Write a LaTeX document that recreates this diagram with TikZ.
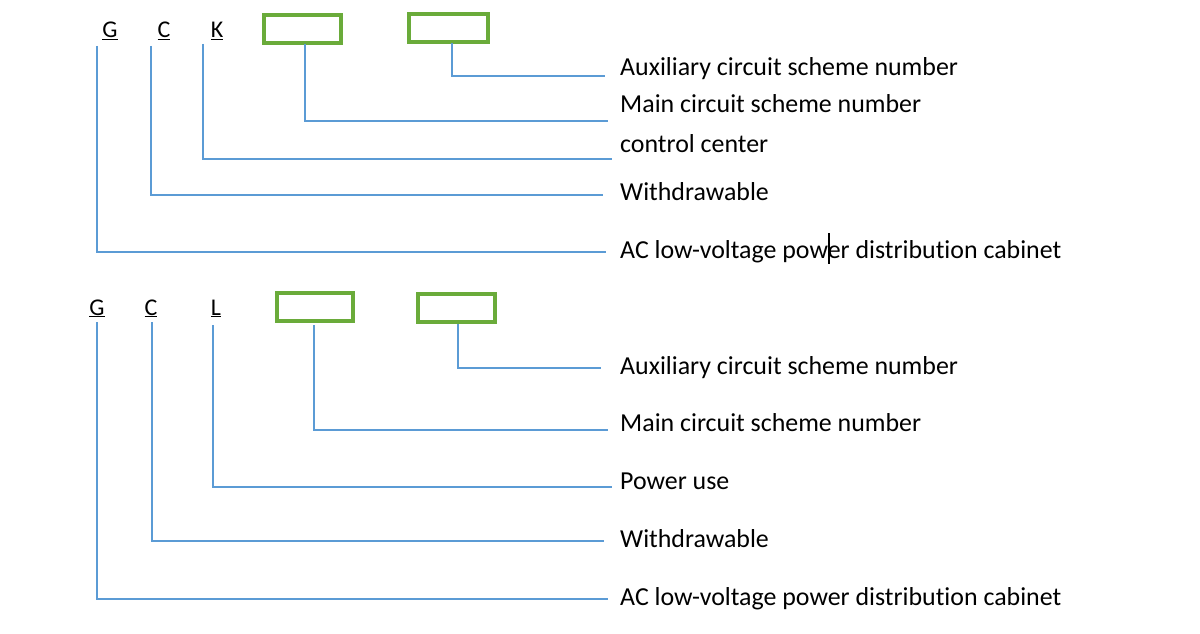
\documentclass[tikz,border=0pt]{standalone}
\usepackage{fontspec}
\setmainfont{Carlito}[Ligatures={NoCommon}]
\definecolor{lineblue}{HTML}{5B9BD5}
\definecolor{boxgreen}{HTML}{6AAB3A}
\begin{document}
\begin{tikzpicture}[x=1pt,y=-1pt,
  conn/.style={draw=lineblue,line width=1.3pt},
  codebox/.style={draw=boxgreen,line width=3.2pt},
  letter/.style={anchor=base,inner sep=0pt,font=\fontsize{24}{28}\selectfont},
  label/.style={anchor=base west,inner sep=0pt,font=\fontsize{25.9}{30}\selectfont}]
\useasboundingbox[fill=white] (0,0) rectangle (1200,634);
% ---------- top group ----------
\node[letter] (g1) at (110,38) {\underline{G}};
\node[letter] (c1) at (164,38) {\underline{C}};
\node[letter] (k1) at (217,38) {\underline{K}};
\draw[codebox] (264,15) rectangle (341,43);
\coordinate (b1) at (305,44);
\draw[codebox] (409,14) rectangle (488,42);
\coordinate (b2) at (452,43);
\node[label] (ta) at (620,75) {Auxiliary circuit scheme number};
\node[label] (tm) at (620,113) {Main circuit scheme number};
\node[label] (tc) at (620,152) {control center};
\node[label] (tw) at (620,200) {Withdrawable};
\node[label] (tac) at (620,258) {AC low-voltage power distribution cabinet};
\coordinate (ea) at (605,76);
\coordinate (em) at (608,121);
\coordinate (ec) at (612,159);
\coordinate (ew) at (603,195);
\coordinate (eac) at (606,252);
\coordinate (sg1) at (97,46);
\coordinate (sc1) at (151,46);
\coordinate (sk1) at (203,44);
\draw[conn] (b2) |- (ea);
\draw[conn] (b1) |- (em);
\draw[conn] (sk1) |- (ec);
\draw[conn] (sc1) |- (ew);
\draw[conn] (sg1) |- (eac);
\draw[black,line width=1.2pt] (829,233) -- (829,264);
% ---------- bottom group ----------
\node[letter] (g2) at (97,315) {\underline{G}};
\node[letter] (c2) at (151,315) {\underline{C}};
\node[letter] (l2) at (216,315) {\underline{L}};
\draw[codebox] (277,293) rectangle (353,321);
\coordinate (b3) at (314,325);
\draw[codebox] (418,294) rectangle (495,322);
\coordinate (b4) at (458,324);
\node[label] (ua) at (620,374) {Auxiliary circuit scheme number};
\node[label] (um) at (620,431) {Main circuit scheme number};
\node[label] (up) at (620,489) {Power use};
\node[label] (uw) at (620,547) {Withdrawable};
\node[label] (uac) at (620,605) {AC low-voltage power distribution cabinet};
\coordinate (fa) at (601,368);
\coordinate (fm) at (608,430);
\coordinate (fp) at (612,487);
\coordinate (fw) at (604,541);
\coordinate (fac) at (608,599);
\coordinate (sg2) at (97,322);
\coordinate (sc2) at (152,322);
\coordinate (sl2) at (213,325);
\draw[conn] (b4) |- (fa);
\draw[conn] (b3) |- (fm);
\draw[conn] (sl2) |- (fp);
\draw[conn] (sc2) |- (fw);
\draw[conn] (sg2) |- (fac);
\end{tikzpicture}
\end{document}
